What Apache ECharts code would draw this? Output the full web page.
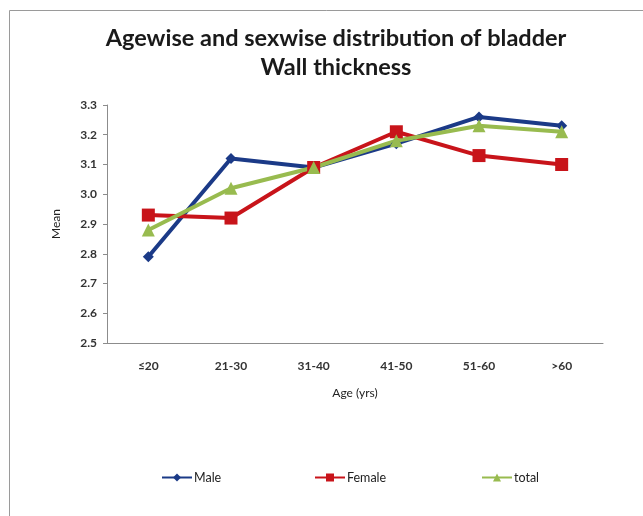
<!DOCTYPE html>
<html>
<head>
<meta charset="utf-8">
<script src="https://cdn.jsdelivr.net/npm/echarts@6/dist/echarts.min.js"></script>
<style>html,body{margin:0;padding:0;background:#fff}#c{width:643px;height:516px}</style>
</head>
<body>
<div id="c"></div>
<script>
const categories = ['≤20', '21-30', '31-40', '41-50', '51-60', '>60'];
const male = [2.79, 3.12, 3.09, 3.17, 3.26, 3.23];
const female = [2.93, 2.92, 3.09, 3.21, 3.13, 3.10];
const total = [2.88, 3.02, 3.09, 3.18, 3.23, 3.21];
const yTicks = { min: 2.5, max: 3.3, interval: 0.1 };
const seriesNames = ['Male', 'Female', 'total'];

const FONT = 'Lato, "Open Sans", sans-serif';
const chart = echarts.init(document.getElementById('c'), null, { renderer: 'canvas' });
function mk(name, data, color, symbol, size) {
  return {
    name, type: 'line', data, symbol, symbolSize: size,
    lineStyle: { color, width: 4 },
    itemStyle: { color },
    emphasis: { disabled: true },
    animation: false
  };
}
function lg(name, left) {
  return {
    left, top: 471, padding: 0, itemGap: 0, itemWidth: 30, itemHeight: 10,
    textStyle: { fontFamily: FONT, fontSize: 12.5, color: '#222', padding: [0, 0, 0, -3] },
    data: [name]
  };
}
chart.setOption({
  animation: false,
  backgroundColor: '#fff',
  graphic: [{
    type: 'rect', shape: { x: 9.5, y: 10.5, width: 700, height: 600 },
    style: { fill: 'none', stroke: '#9a9a9a', lineWidth: 1 }, silent: true
  }],
  title: {
    text: 'Agewise and sexwise distribution of bladder\nWall thickness',
    left: 331, top: 19, textAlign: 'center',
    textStyle: { fontFamily: FONT, fontWeight: 'bold', fontSize: 23.5, color: '#1a1a1a', lineHeight: 29 }
  },
  grid: { left: 107, right: 40, top: 105, bottom: 173, containLabel: false },
  xAxis: {
    type: 'category', data: categories,
    name: 'Age (yrs)', nameLocation: 'middle', nameGap: 44,
    nameTextStyle: { fontFamily: FONT, fontSize: 12, color: '#222' },
    axisLine: { lineStyle: { color: '#8c8c8c', width: 1 } },
    axisTick: { show: false },
    axisLabel: { fontFamily: FONT, fontSize: 12, fontWeight: 'bold', color: '#333', margin: 17 },
    splitLine: { show: false }
  },
  yAxis: {
    type: 'value', min: yTicks.min, max: yTicks.max, interval: yTicks.interval,
    name: 'Mean', nameLocation: 'middle', nameGap: 45,
    nameTextStyle: { fontFamily: FONT, fontSize: 12, color: '#222' },
    axisLine: { show: true, lineStyle: { color: '#8c8c8c', width: 1 } },
    axisTick: { show: true, length: 4, lineStyle: { color: '#8c8c8c' } },
    axisLabel: { fontFamily: FONT, fontSize: 12, fontWeight: 'bold', color: '#333', margin: 10,
      formatter: v => v.toFixed(1) },
    splitLine: { show: false }
  },
  legend: [lg(seriesNames[0], 161), lg(seriesNames[1], 314), lg(seriesNames[2], 481)],
  series: [
    mk(seriesNames[0], male, '#1b3a87', 'diamond', 11),
    mk(seriesNames[1], female, '#c8141a', 'rect', 13),
    mk(seriesNames[2], total, '#98bb4f', 'triangle', 13)
  ]
});
</script>
</body>
</html>
